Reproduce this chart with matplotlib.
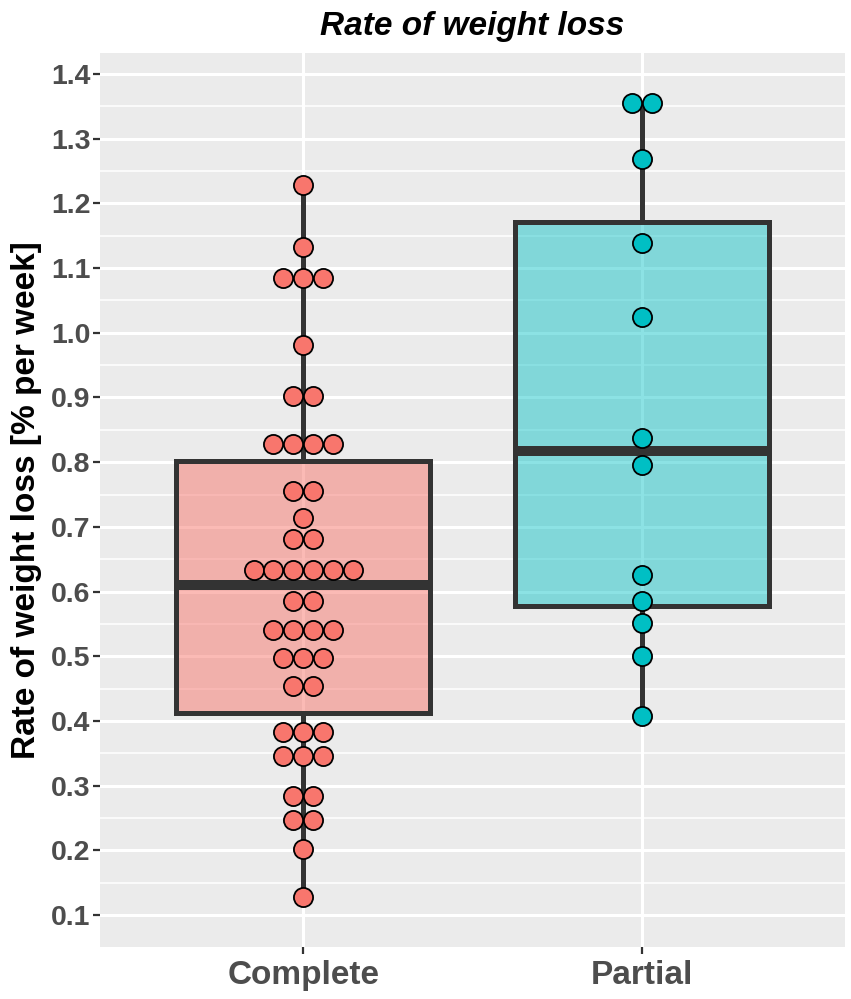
import numpy as np
import matplotlib.pyplot as plt
from matplotlib.colors import to_rgb
from matplotlib.ticker import MultipleLocator

# Data (dotplot values, repeated where dots stack)
groups = ["Complete", "Partial"]
complete_vals = [1.228, 1.133, 1.085, 1.085, 1.085, 0.981, 0.902, 0.902,
                 0.828, 0.828, 0.828, 0.828, 0.755, 0.755, 0.713, 0.681, 0.681,
                 0.633, 0.633, 0.633, 0.633, 0.633, 0.633, 0.586, 0.586,
                 0.541, 0.541, 0.541, 0.541, 0.497, 0.497, 0.497, 0.454, 0.454,
                 0.383, 0.383, 0.383, 0.346, 0.346, 0.346, 0.284, 0.284,
                 0.247, 0.247, 0.202, 0.128]
partial_vals = [1.355, 1.355, 1.269, 1.139, 1.024, 0.838, 0.795, 0.626,
                0.585, 0.552, 0.501, 0.408]

# Box statistics: (whislo, q1, med, q3, whishi)
complete_box = [0.128, 0.412, 0.610, 0.802, 1.228]
partial_box = [0.408, 0.577, 0.818, 1.171, 1.355]

fill_colors = ["#F8766D", "#00BFC4"]
box_alpha = [0.5, 0.45]

DOT_STEP = 0.0585  # horizontal spacing of stacked dots, in category units
LINE_COL = "#333333"

fig = plt.figure(figsize=(8.51, 9.99), dpi=100)
ax = fig.add_axes([0.1175, 0.052, 0.8755, 0.895])
ax.set_facecolor("#EBEBEB")

# grid
ax.yaxis.set_major_locator(MultipleLocator(0.1))
ax.yaxis.set_minor_locator(MultipleLocator(0.05))
ax.grid(which="major", color="white", linewidth=2.2, zorder=0)
ax.grid(which="minor", axis="y", color="white", linewidth=1.1, zorder=0)
ax.set_axisbelow(True)

# boxes
stats = []
for name, b in zip(groups, [complete_box, partial_box]):
    stats.append(dict(label=name, whislo=b[0], q1=b[1], med=b[2], q3=b[3], whishi=b[4]))
bp = ax.bxp(stats, positions=[1, 2], widths=0.75, patch_artist=True,
            showfliers=False, showcaps=False,
            boxprops=dict(edgecolor=LINE_COL, linewidth=3.6),
            whiskerprops=dict(color=LINE_COL, linewidth=3.6, solid_capstyle="butt"),
            medianprops=dict(color=LINE_COL, linewidth=7.2, solid_capstyle="butt"),
            zorder=2)
for patch, c, a in zip(bp["boxes"], fill_colors, box_alpha):
    patch.set_facecolor((*to_rgb(c), a))
    patch.set_joinstyle("miter")

# centred dot stacks
for pos, vals, c in zip([1, 2], [complete_vals, partial_vals], fill_colors):
    uniq, counts = np.unique(vals, return_counts=True)
    xs, ys = [], []
    for v, n in zip(uniq, counts):
        for k in range(n):
            xs.append(pos + (k - (n - 1) / 2) * DOT_STEP)
            ys.append(v)
    ax.scatter(xs, ys, s=190, facecolor=c, edgecolor="black", linewidth=1.3, zorder=4)

ax.set_xlim(0.4, 2.6)
ax.set_ylim(0.0505, 1.4325)
ax.set_xticks([1, 2])
ax.set_xticklabels(groups)

for s in ax.spines.values():
    s.set_visible(False)

ax.tick_params(axis="both", which="major", color=LINE_COL, length=5, width=1.6,
               labelcolor="#4D4D4D")
ax.tick_params(axis="y", which="minor", length=0)
ax.tick_params(axis="y", labelsize=20.5, pad=2)
ax.tick_params(axis="x", labelsize=24, pad=4)
for lab in ax.get_xticklabels() + ax.get_yticklabels():
    lab.set_fontfamily("Liberation Sans")
    lab.set_fontweight("bold")

ax.set_ylabel("Rate of weight loss [% per week]", fontsize=24, fontweight="bold",
              family="Liberation Sans", color="black", labelpad=6)
ax.set_title("Rate of weight loss", fontsize=24, fontweight="bold", style="italic",
             family="Liberation Sans", pad=13)

fig.savefig("out.png", dpi=100)
